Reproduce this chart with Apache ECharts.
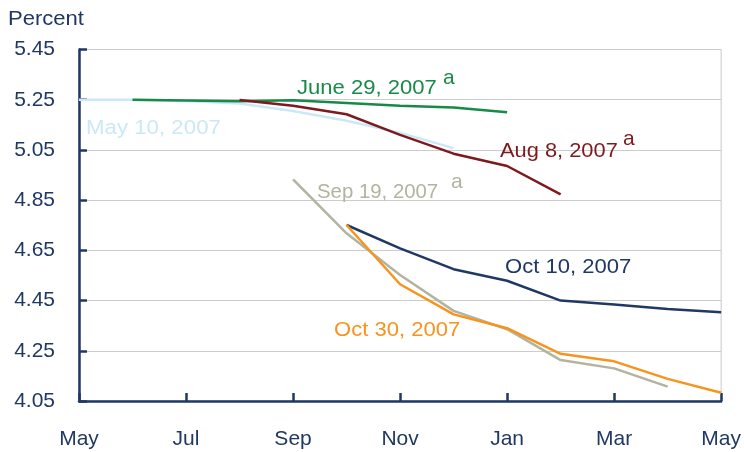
<!DOCTYPE html>
<html>
<head>
<meta charset="utf-8">
<script src="https://cdn.jsdelivr.net/npm/echarts@6/dist/echarts.min.js"></script>
<style>
  html, body { margin: 0; padding: 0; background: #fff; }
  #container { width: 744px; height: 452px; }
</style>
</head>
<body>
<div id="container"></div>
<script>
var dom = document.getElementById("container");
var myChart = echarts.init(dom);

// months from May 2007 (0) to May 2008 (12)
var months = [0, 1, 2, 3, 4, 5, 6, 7, 8, 9, 10, 11, 12];
var monthLabels = ['May', 'Jun', 'Jul', 'Aug', 'Sep', 'Oct', 'Nov', 'Dec', 'Jan', 'Feb', 'Mar', 'Apr', 'May'];

var may10 = [5.25, 5.25, 5.245, 5.235, 5.205, 5.166, 5.118, 5.057, null, null, null, null, null];
var jun29 = [null, 5.25, 5.247, 5.244, 5.248, 5.237, 5.226, 5.219, 5.20, null, null, null, null];
var aug8  = [null, null, null, 5.249, 5.226, 5.192, 5.11, 5.035, 4.986, 4.873, null, null, null];
var sep19 = [null, null, null, null, 4.933, 4.718, 4.552, 4.409, 4.336, 4.213, 4.18, 4.107, null];
var oct10 = [null, null, null, null, null, 4.751, 4.658, 4.575, 4.529, 4.45, 4.434, 4.416, 4.403];
var oct30 = [null, null, null, null, null, 4.751, 4.515, 4.395, 4.34, 4.238, 4.208, 4.138, 4.083];

var navy = '#1f3864';
var font = 'Liberation Sans';

function pairs(vals) {
    var out = [];
    vals.forEach(function (v, i) {
        if (v !== null) out.push([months[i], v]);
    });
    return out;
}

function line(name, vals, color) {
    return {
        name: name,
        type: 'line',
        data: pairs(vals),
        symbol: 'none',
        lineStyle: { color: color, width: 2.5 },
        silent: true
    };
}

function label(txt, x, y, color, sx, sup) {
    var els = [{
        type: 'text', left: x, top: y - 10, scaleX: sx, z: 100,
        style: { text: txt, fill: color, font: '21px "' + font + '"' }
    }];
    if (sup) {
        els.push({
            type: 'text', left: sup[0], top: sup[1] - 10, z: 100,
            style: { text: 'a', fill: color, font: '21px "' + font + '"' }
        });
    }
    return els;
}

var option = {
    animation: false,
    grid: {
        left: 79, right: 22, top: 49.5, bottom: 51,
        show: true, borderColor: '#c8c8c8', borderWidth: 1
    },
    xAxis: {
        type: 'value', min: 0, max: 12, interval: 2,
        axisLine: { lineStyle: { color: navy, width: 2.5 } },
        axisTick: { inside: true, length: 8, lineStyle: { color: navy, width: 2.5 } },
        axisLabel: {
            color: navy, fontSize: 21, fontFamily: font, margin: 28,
            formatter: function (v) { return monthLabels[Math.round(v)]; }
        },
        splitLine: { show: false }
    },
    yAxis: {
        type: 'value', min: 4.05, max: 5.45, interval: 0.2,
        axisLine: { show: true, lineStyle: { color: navy, width: 2.5 } },
        axisTick: { show: true, inside: true, length: 8, lineStyle: { color: navy, width: 2.5 } },
        axisLabel: {
            color: navy, fontSize: 21, fontFamily: font, margin: 24,
            formatter: function (v) { return v.toFixed(2); }
        },
        splitLine: { lineStyle: { color: '#cccccc', width: 1 } }
    },
    graphic: [].concat(
        [{ type: 'text', left: 8, top: 9, scaleX: 1.05, z: 100,
           style: { text: 'Percent', fill: navy, font: '21px "' + font + '"' } }],
        label('June 29, 2007', 297, 88, '#178a48', 1.05, [443, 78]),
        label('May 10, 2007', 86, 128, '#cbe8f7', 1.06),
        label('Aug 8, 2007', 500, 151, '#7d1a1e', 1.04, [623, 139]),
        label('Sep 19, 2007', 317, 192, '#b3b39f', 0.97, [451, 182]),
        label('Oct 10, 2007', 505, 267, '#1f3864', 1.05),
        label('Oct 30, 2007', 334, 330, '#f7941d', 1.05)
    ),
    series: [
        line('May 10, 2007', may10, '#cbe8f7'),
        line('June 29, 2007', jun29, '#178a48'),
        line('Aug 8, 2007', aug8, '#7d1a1e'),
        line('Sep 19, 2007', sep19, '#b3b39f'),
        line('Oct 10, 2007', oct10, '#1f3864'),
        line('Oct 30, 2007', oct30, '#f7941d')
    ]
};

myChart.setOption(option);
</script>
</body>
</html>
